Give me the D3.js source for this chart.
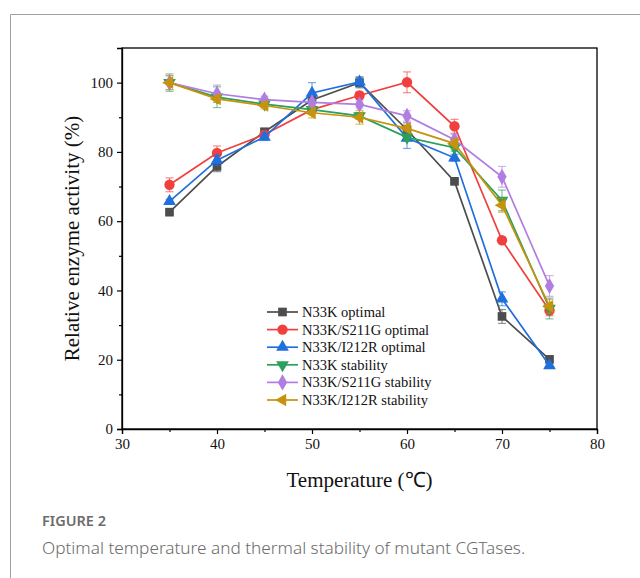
<!DOCTYPE html>
<html>
<head>
<meta charset="utf-8">
<script src="https://cdn.jsdelivr.net/npm/d3@7"></script>
<style>
  body { margin: 0; background: #fff; }
  svg { display: block; }
</style>
</head>
<body>
<div id="root"></div>
<script>
// temperatures (x values)
var temps = [35, 40, 45, 50, 55, 60, 65, 70, 75];

var seriesNames = ["N33K optimal", "N33K/S211G optimal", "N33K/I212R optimal",
                   "N33K stability", "N33K/S211G stability", "N33K/I212R stability"];

// relative activity (%)
var n33kOpt      = [62.6, 75.8, 85.8, 95.0, 100, 86.4, 71.5, 32.5, 20.1];
var s211gOpt     = [70.5, 79.7, 85.0, 92.2, 96.3, 100.1, 87.4, 54.5, 34.2];
var i212rOpt     = [65.7, 77.6, 84.3, 97.0, 100.2, 84.0, 78.3, 37.6, 18.3];
var n33kStab     = [100, 95.8, 93.8, 92.2, 90.4, 84.2, 81.2, 66.0, 34.8];
var s211gStab    = [100, 96.8, 95.1, 94.3, 93.7, 90.4, 83.5, 72.8, 41.3];
var i212rStab    = [100, 95.3, 93.4, 91.3, 90.0, 86.8, 82.4, 64.6, 35.4];

// error bars (+/-)
var n33kOptErr   = [0.8, 1.5, 1.0, 1.0, 1.5, 2.0, 0.5, 2.0, 0.5];
var s211gOptErr  = [2.0, 2.0, 1.0, 1.0, 1.0, 3.0, 2.0, 0.5, 1.5];
var i212rOptErr  = [0.6, 1.5, 1.0, 3.0, 1.5, 3.0, 1.0, 2.0, 0.5];
var n33kStabErr  = [2.5, 3.0, 1.0, 1.0, 1.0, 1.0, 1.0, 3.0, 3.0];
var s211gStabErr = [2.0, 2.5, 1.0, 1.0, 1.0, 1.5, 1.5, 3.0, 3.0];
var i212rStabErr = [2.0, 1.0, 1.0, 1.5, 2.0, 1.0, 1.5, 2.0, 2.0];

var xTicks = [30, 40, 50, 60, 70, 80];
var yTicks = [0, 20, 40, 60, 80, 100];

var colors = ["#4d4d4d", "#f0403e", "#1f6fdc", "#2aa05c", "#b07ee2", "#c8930c"];
var symbols = ["square", "circle", "triangle", "triangleDown", "diamond", "triangleLeft"];

var allValues = [n33kOpt, s211gOpt, i212rOpt, n33kStab, s211gStab, i212rStab];
var allErrs = [n33kOptErr, s211gOptErr, i212rOptErr, n33kStabErr, s211gStabErr, i212rStabErr];

var series = [];
for (let i = 0; i < seriesNames.length; i++) {
  series.push({
    name: seriesNames[i],
    color: colors[i],
    symbol: symbols[i],
    points: temps.map((t, j) => ({ t: t, v: allValues[i][j], e: allErrs[i][j] }))
  });
}

const W = 640, H = 578;
const margin = { top: 48, right: 43, bottom: 149, left: 122 };

var svg = d3.select("#root").append("svg").attr("width", W).attr("height", H);

// card border like the journal page
svg.append("path")
  .attr("d", "M640,14.5 H10.5 V578")
  .attr("fill", "none")
  .attr("stroke", "#a0a0a0")
  .attr("stroke-width", 1);

var x = d3.scaleLinear().domain([30, 80]).range([margin.left, W - margin.right]);
var y = d3.scaleLinear().domain([0, 110]).range([H - margin.bottom, margin.top]);

var serif = "'Liberation Serif', 'Times New Roman', serif";

// frame
svg.append("rect")
  .attr("x", x(30)).attr("y", y(110))
  .attr("width", x(80) - x(30)).attr("height", y(0) - y(110))
  .attr("fill", "none").attr("stroke", "#000").attr("stroke-width", 1.3);

// x axis
var xAxis = svg.append("g")
  .attr("transform", `translate(0,${y(0)})`)
  .call(d3.axisBottom(x).tickValues(xTicks).tickSize(5).tickPadding(4).tickFormat(d3.format("d")));
svg.append("g")
  .attr("transform", `translate(0,${y(0)})`)
  .call(d3.axisBottom(x).tickValues([35, 45, 55, 65, 75]).tickSize(3).tickFormat(""))
  .call(g => g.select(".domain").remove());

// y axis
var yAxis = svg.append("g")
  .attr("transform", `translate(${x(30)},0)`)
  .call(d3.axisLeft(y).tickValues(yTicks).tickSize(5).tickPadding(4).tickFormat(d3.format("d")));
svg.append("g")
  .attr("transform", `translate(${x(30)},0)`)
  .call(d3.axisLeft(y).tickValues([10, 30, 50, 70, 90]).tickSize(3).tickFormat(""))
  .call(g => g.select(".domain").remove());

svg.selectAll(".domain").attr("stroke-width", 1.3);
svg.selectAll(".tick line").attr("stroke-width", 1.2);
svg.selectAll(".tick text")
  .attr("font-family", serif)
  .attr("font-size", "15px")
  .attr("fill", "#111");

// axis titles
svg.append("text")
  .attr("x", (x(30) + x(80)) / 2)
  .attr("y", 487)
  .attr("text-anchor", "middle")
  .attr("font-family", serif)
  .attr("font-size", "21px")
  .attr("fill", "#111")
  .text("Temperature (\u2103)");

svg.append("text")
  .attr("transform", `translate(79,${(y(0) + y(110)) / 2}) rotate(-90)`)
  .attr("text-anchor", "middle")
  .attr("font-family", serif)
  .attr("font-size", "21px")
  .attr("fill", "#111")
  .text("Relative enzyme activity (%)");

function symbolPath(name, size) {
  var types = {
    square: d3.symbolSquare,
    circle: d3.symbolCircle,
    triangle: d3.symbolTriangle,
    diamond: d3.symbolDiamond
  };
  if (name === "triangleDown" || name === "triangleLeft") {
    return d3.symbol(d3.symbolTriangle, size)();
  }
  return d3.symbol(types[name], size)();
}
function symbolRotate(name) {
  if (name === "triangleDown") return " rotate(180)";
  if (name === "triangleLeft") return " rotate(-90)";
  return "";
}
var symbolSize = { square: 75, circle: 85, triangle: 70, triangleDown: 70, diamond: 75, triangleLeft: 70 };

var line = d3.line().x(d => x(d.t)).y(d => y(d.v));

series.forEach(function (s) {
  var g = svg.append("g");

  // error bars
  var eb = g.selectAll(".eb").data(s.points).enter().append("g")
    .attr("stroke", s.color).attr("stroke-opacity", 0.6).attr("stroke-width", 1.2);
  eb.append("line")
    .attr("x1", d => x(d.t)).attr("x2", d => x(d.t))
    .attr("y1", d => y(d.v - d.e)).attr("y2", d => y(d.v + d.e));
  eb.append("line")
    .attr("x1", d => x(d.t) - 4).attr("x2", d => x(d.t) + 4)
    .attr("y1", d => y(d.v + d.e)).attr("y2", d => y(d.v + d.e));
  eb.append("line")
    .attr("x1", d => x(d.t) - 4).attr("x2", d => x(d.t) + 4)
    .attr("y1", d => y(d.v - d.e)).attr("y2", d => y(d.v - d.e));

  g.append("path")
    .datum(s.points)
    .attr("d", line)
    .attr("fill", "none")
    .attr("stroke", s.color)
    .attr("stroke-width", 1.7);

  g.selectAll(".pt").data(s.points).enter().append("path")
    .attr("d", symbolPath(s.symbol, symbolSize[s.symbol]))
    .attr("transform", d => `translate(${x(d.t)},${y(d.v)})` + symbolRotate(s.symbol))
    .attr("fill", s.color);
});

// legend
var legend = svg.append("g").attr("transform", "translate(267,312)");
series.forEach(function (s, i) {
  var row = legend.append("g").attr("transform", `translate(0,${i * 17.6})`);
  row.append("line")
    .attr("x1", 0).attr("x2", 31).attr("y1", 0).attr("y2", 0)
    .attr("stroke", s.color).attr("stroke-width", 1.7);
  row.append("path")
    .attr("d", symbolPath(s.symbol, symbolSize[s.symbol]))
    .attr("transform", "translate(15.5,0)" + symbolRotate(s.symbol))
    .attr("fill", s.color);
  row.append("text")
    .attr("x", 35).attr("y", 5)
    .attr("font-family", serif)
    .attr("font-size", "14.5px")
    .attr("fill", "#111")
    .text(s.name);
});

// caption
svg.append("text")
  .attr("x", 42).attr("y", 526)
  .attr("font-family", "'Noto Sans', 'Open Sans', sans-serif")
  .attr("font-size", "14.5px")
  .attr("font-weight", 600)
  .attr("fill", "#6b6b6b")
  .text("FIGURE 2");

svg.append("text")
  .attr("x", 42).attr("y", 554)
  .attr("font-family", "'Noto Sans', 'Open Sans', sans-serif")
  .attr("font-size", "17.2px")
  .attr("font-weight", 300)
  .attr("fill", "#6b6b6b")
  .text("Optimal temperature and thermal stability of mutant CGTases.");
</script>
</body>
</html>
